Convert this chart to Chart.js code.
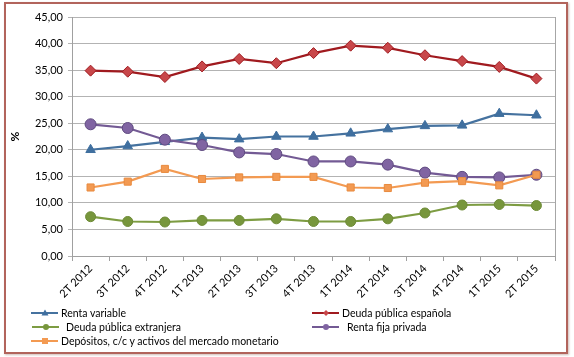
<!DOCTYPE html>
<html>
<head>
<meta charset="utf-8">
<script src="https://cdn.jsdelivr.net/npm/chart.js@4/dist/chart.umd.min.js"></script>
<style>
  html, body { margin:0; padding:0; background:#fff; }
  #wrap { position:relative; width:574px; height:357px; overflow:hidden; }
  #frame { position:absolute; left:4px; top:2px; width:560px; height:348px; border:2px solid #b2645c; box-shadow:1px 1px 2px rgba(120,60,50,0.35); }
  #c { position:absolute; left:0; top:0; }
  .lg { position:absolute; font-family: Lato, "Liberation Sans", sans-serif; font-size:10.5px; color:#000; white-space:nowrap; display:flex; align-items:center; height:14px; }
  .lg canvas { margin-right:2px; }
</style>
</head>
<body>
<div id="wrap">
  <div id="frame"></div>
  <canvas id="c" width="574" height="357"></canvas>
  <div id="legend"></div>
</div>
<script>
const categories = ["2T 2012","3T 2012","4T 2012","1T 2013","2T 2013","3T 2013","4T 2013","1T 2014","2T 2014","3T 2014","4T 2014","1T 2015","2T 2015"];
const rentaVariable        = [20.0, 20.7, 21.5, 22.3, 22.0, 22.5, 22.5, 23.1, 23.9, 24.5, 24.6, 26.8, 26.5];
const deudaEspanola        = [34.9, 34.7, 33.7, 35.7, 37.1, 36.3, 38.2, 39.6, 39.2, 37.8, 36.7, 35.6, 33.4];
const deudaExtranjera      = [7.4, 6.5, 6.4, 6.7, 6.7, 7.0, 6.5, 6.5, 7.0, 8.1, 9.6, 9.7, 9.5];
const rentaFijaPrivada     = [24.8, 24.1, 21.9, 20.9, 19.5, 19.2, 17.8, 17.8, 17.2, 15.7, 14.9, 14.8, 15.3];
const depositos            = [12.9, 14.0, 16.4, 14.5, 14.8, 14.9, 14.9, 12.9, 12.8, 13.8, 14.1, 13.3, 15.3];
const seriesNames = ["Renta variable", "Deuda pública española", "Deuda pública extranjera", "Renta fija privada", "Depósitos, c/c y activos del mercado monetario"];
const yTicks = { min: 0, max: 45, step: 5 };

const styles = [
  { line:"#45729f", fill:"#3f6f9f", border:"#3f6f9f", shape:"triangle", r:5.5 },
  { line:"#a01a1f", fill:"#c8474a", border:"#a01a1f", shape:"rectRot", r:5.5 },
  { line:"#7d9c42", fill:"#77963c", border:"#6d8a36", shape:"circle", r:5 },
  { line:"#735a94", fill:"#8064a2", border:"#5f4a80", shape:"circle", r:5.5 },
  { line:"#f39a52", fill:"#f39a52", border:"#e88a3e", shape:"rect", r:5 }
];
const values = [rentaVariable, deudaEspanola, deudaExtranjera, rentaFijaPrivada, depositos];
const orders = [5, 4, 3, 2, 1];

const datasets = values.map((v, i) => ({
  label: seriesNames[i],
  data: v,
  borderColor: styles[i].line,
  backgroundColor: styles[i].fill,
  pointBackgroundColor: styles[i].fill,
  pointBorderColor: styles[i].border,
  pointBorderWidth: 1,
  pointStyle: styles[i].shape,
  pointRadius: styles[i].r,
  borderWidth: 2.2,
  tension: 0,
  order: orders[i]
}));

const plotBorder = {
  id: "plotBorder",
  beforeDatasetsDraw(chart) {
    const a = chart.chartArea, ctx = chart.ctx;
    ctx.save();
    ctx.strokeStyle = "#a6a6a6";
    ctx.lineWidth = 1;
    ctx.beginPath();
    ctx.moveTo(Math.round(a.right) + 0.5, a.top);
    ctx.lineTo(Math.round(a.right) + 0.5, a.bottom);
    ctx.stroke();
    ctx.restore();
  }
};

const FONT = "Lato, 'Liberation Sans', sans-serif";
new Chart(document.getElementById("c"), {
  type: "line",
  data: { labels: categories, datasets },
  plugins: [plotBorder],
  options: {
    responsive: false,
    animation: false,
    layout: { padding: { top: 17, right: 19, left: 0, bottom: 0 } },
    plugins: { legend: { display: false }, tooltip: { enabled: false } },
    scales: {
      x: {
        offset: true,
        grid: { offset: true, drawOnChartArea: false, tickLength: 5, color: "#a0a0a0" },
        border: { color: "#a0a0a0" },
        ticks: { maxRotation: 45, minRotation: 45, autoSkip: false, padding: 1, color: "#000", font: { family: FONT, size: 11 } },
        afterFit(s) { s.height = 101; }
      },
      y: {
        min: yTicks.min, max: yTicks.max,
        ticks: { stepSize: yTicks.step, padding: 5, color: "#000", font: { family: FONT, size: 11 },
          callback: v => v.toFixed(2).replace(".", ",") },
        grid: { color: "#b3b3b3", tickLength: 4 },
        border: { color: "#a0a0a0" },
        title: { display: true, text: "%", color: "#000", font: { family: FONT, size: 12, weight: "bold" }, padding: { top: 8, bottom: 0 } },
        afterFit(s) { s.width = 72; }
      }
    }
  }
});

// legend (HTML, two columns)
const legendPos = [
  { x: 31, y: 313, gap: 0 }, { x: 312, y: 313, gap: 0 },
  { x: 32, y: 327, gap: 4 }, { x: 312, y: 327, gap: 5 },
  { x: 31, y: 341, gap: 0 }
];
const lg = document.getElementById("legend");
seriesNames.forEach((name, i) => {
  const d = document.createElement("div");
  d.className = "lg";
  d.style.left = legendPos[i].x + "px";
  d.style.top = (legendPos[i].y - 7) + "px";
  const cv = document.createElement("canvas");
  cv.width = 28; cv.height = 14;
  const ctx = cv.getContext("2d");
  ctx.strokeStyle = styles[i].line; ctx.lineWidth = 2;
  ctx.beginPath(); ctx.moveTo(0, 7); ctx.lineTo(27, 7); ctx.stroke();
  ctx.fillStyle = styles[i].fill;
  const cx = 14, cy = 7, r = 3;
  ctx.beginPath();
  if (styles[i].shape === "triangle") { ctx.moveTo(cx, cy - 3.5); ctx.lineTo(cx + 3.5, cy + 2.5); ctx.lineTo(cx - 3.5, cy + 2.5); ctx.closePath(); }
  else if (styles[i].shape === "rectRot") { ctx.moveTo(cx, cy - r); ctx.lineTo(cx + r, cy); ctx.lineTo(cx, cy + r); ctx.lineTo(cx - r, cy); ctx.closePath(); }
  else if (styles[i].shape === "rect") { ctx.rect(cx - 3, cy - 3, 6, 6); }
  else { ctx.arc(cx, cy, r, 0, Math.PI * 2); }
  ctx.fill();
  d.appendChild(cv);
  const t = document.createElement("span");
  t.textContent = name;
  t.style.marginLeft = legendPos[i].gap + "px";
  d.appendChild(t);
  lg.appendChild(d);
});
</script>
</body>
</html>
